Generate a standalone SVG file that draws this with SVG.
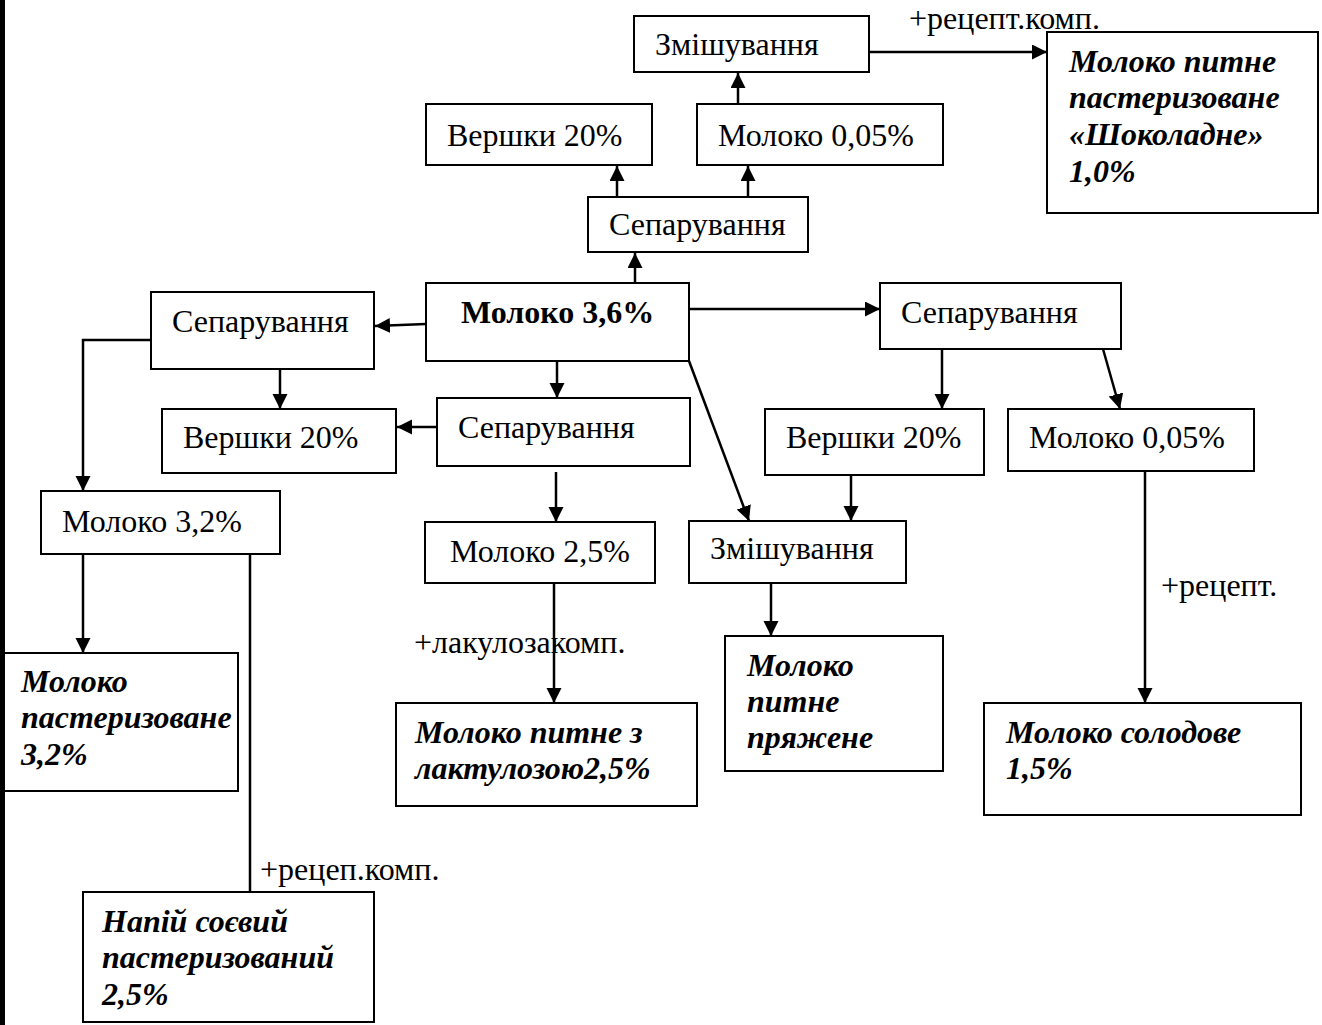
<svg xmlns="http://www.w3.org/2000/svg" width="1322" height="1025" viewBox="0 0 1322 1025">
<defs>
<marker id="ah" markerWidth="16" markerHeight="16" refX="15" refY="7.5" orient="auto" markerUnits="userSpaceOnUse">
<path d="M0,0 L15,7.5 L0,15 Z" fill="#000"/>
</marker>
<style>
rect{fill:#fff;stroke:#000;stroke-width:2}
text{font-family:"Liberation Serif","Times New Roman",serif;font-size:32px;fill:#000}
.b{font-weight:bold}
.bi{font-weight:bold;font-style:italic}
.c line,.c path{stroke:#000;stroke-width:2.5;fill:none}
.a{marker-end:url(#ah)}
</style>
</defs>
<rect x="0" y="0" width="1322" height="1025" style="stroke:none"/>
<rect x="0" y="0" width="5" height="1025" style="fill:#000;stroke:none"/>

<g class="c" id="connectors">
<line class="a" x1="869" y1="52" x2="1047" y2="52"/>
<line class="a" x1="738" y1="104" x2="738" y2="73"/>
<line class="a" x1="617" y1="197" x2="617" y2="166"/>
<line class="a" x1="748" y1="197" x2="748" y2="166"/>
<line class="a" x1="635" y1="283" x2="635" y2="253"/>
<line class="a" x1="426" y1="324" x2="375" y2="326"/>
<line class="a" x1="689" y1="309" x2="880" y2="309"/>
<path class="a" d="M151,340 H83 V491"/>
<line class="a" x1="280" y1="369" x2="280" y2="409"/>
<line class="a" x1="557" y1="361" x2="557" y2="398"/>
<line class="a" x1="437" y1="427" x2="397" y2="427"/>
<line class="a" x1="556" y1="472" x2="556" y2="522"/>
<line class="a" x1="942" y1="349" x2="942" y2="409"/>
<line class="a" x1="1103" y1="349" x2="1120" y2="409"/>
<line class="a" x1="689" y1="361" x2="749" y2="521"/>
<line class="a" x1="851" y1="475" x2="851" y2="521"/>
<line class="a" x1="771" y1="583" x2="771" y2="636"/>
<line class="a" x1="1145" y1="471" x2="1145" y2="703"/>
<line class="a" x1="83" y1="554" x2="83" y2="653"/>
<line x1="250" y1="554" x2="250" y2="892"/>
<line class="a" x1="554" y1="583" x2="554" y2="703"/>
</g>

<g id="n-mix-top"><rect x="634" y="16" width="235" height="56"/><text x="655" y="55">Змішування</text></g>
<text x="909" y="29">+рецепт.комп.</text>
<g id="n-choc"><rect x="1047" y="32" width="271" height="181"/>
<text class="bi" x="1069" y="72">Молоко питне</text>
<text class="bi" x="1069" y="108">пастеризоване</text>
<text class="bi" x="1069" y="145">«Шоколадне»</text>
<text class="bi" x="1069" y="182">1,0%</text></g>
<g id="n-cream-top"><rect x="426" y="104" width="226" height="61"/><text x="447" y="146">Вершки 20%</text></g>
<g id="n-skim-top"><rect x="697" y="104" width="246" height="61"/><text x="718" y="146">Молоко 0,05%</text></g>
<g id="n-sep-top"><rect x="588" y="197" width="220" height="55"/><text x="609" y="235">Сепарування</text></g>
<g id="n-milk36"><rect x="426" y="283" width="263" height="78"/><text class="b" x="461" y="323">Молоко 3,6%</text></g>
<g id="n-sep-left"><rect x="151" y="292" width="223" height="77"/><text x="172" y="332">Сепарування</text></g>
<g id="n-sep-right"><rect x="880" y="283" width="241" height="66"/><text x="901" y="323">Сепарування</text></g>
<g id="n-cream-mid"><rect x="162" y="409" width="234" height="64"/><text x="183" y="448">Вершки 20%</text></g>
<g id="n-sep-mid"><rect x="437" y="398" width="253" height="68"/><text x="458" y="438">Сепарування</text></g>
<g id="n-cream-right"><rect x="765" y="409" width="219" height="66"/><text x="786" y="448">Вершки 20%</text></g>
<g id="n-skim-right"><rect x="1008" y="409" width="246" height="62"/><text x="1029" y="448">Молоко 0,05%</text></g>
<g id="n-milk32"><rect x="41" y="491" width="239" height="63"/><text x="62" y="532">Молоко 3,2%</text></g>
<g id="n-milk25"><rect x="425" y="522" width="230" height="61"/><text x="450" y="562">Молоко 2,5%</text></g>
<g id="n-mix-mid"><rect x="689" y="521" width="217" height="62"/><text x="710" y="559">Змішування</text></g>
<text x="414" y="653">+лакулозакомп.</text>
<text x="1161" y="596">+рецепт.</text>
<g id="n-past32"><rect x="4" y="653" width="234" height="138"/>
<text class="bi" x="21" y="692">Молоко</text>
<text class="bi" x="21" y="728">пастеризоване</text>
<text class="bi" x="21" y="765">3,2%</text></g>
<g id="n-lact"><rect x="396" y="703" width="301" height="103"/>
<text class="bi" x="415" y="743">Молоко питне з</text>
<text class="bi" x="415" y="779">лактулозою2,5%</text></g>
<g id="n-baked"><rect x="725" y="636" width="218" height="135"/>
<text class="bi" x="747" y="676">Молоко</text>
<text class="bi" x="747" y="712">питне</text>
<text class="bi" x="747" y="748">пряжене</text></g>
<g id="n-malt"><rect x="984" y="703" width="317" height="112"/>
<text class="bi" x="1006" y="743">Молоко солодове</text>
<text class="bi" x="1006" y="779">1,5%</text></g>
<text x="260" y="880">+рецеп.комп.</text>
<g id="n-soy"><rect x="83" y="892" width="291" height="130"/>
<text class="bi" x="102" y="932">Напій соєвий</text>
<text class="bi" x="102" y="968">пастеризований</text>
<text class="bi" x="102" y="1005">2,5%</text></g>
</svg>
